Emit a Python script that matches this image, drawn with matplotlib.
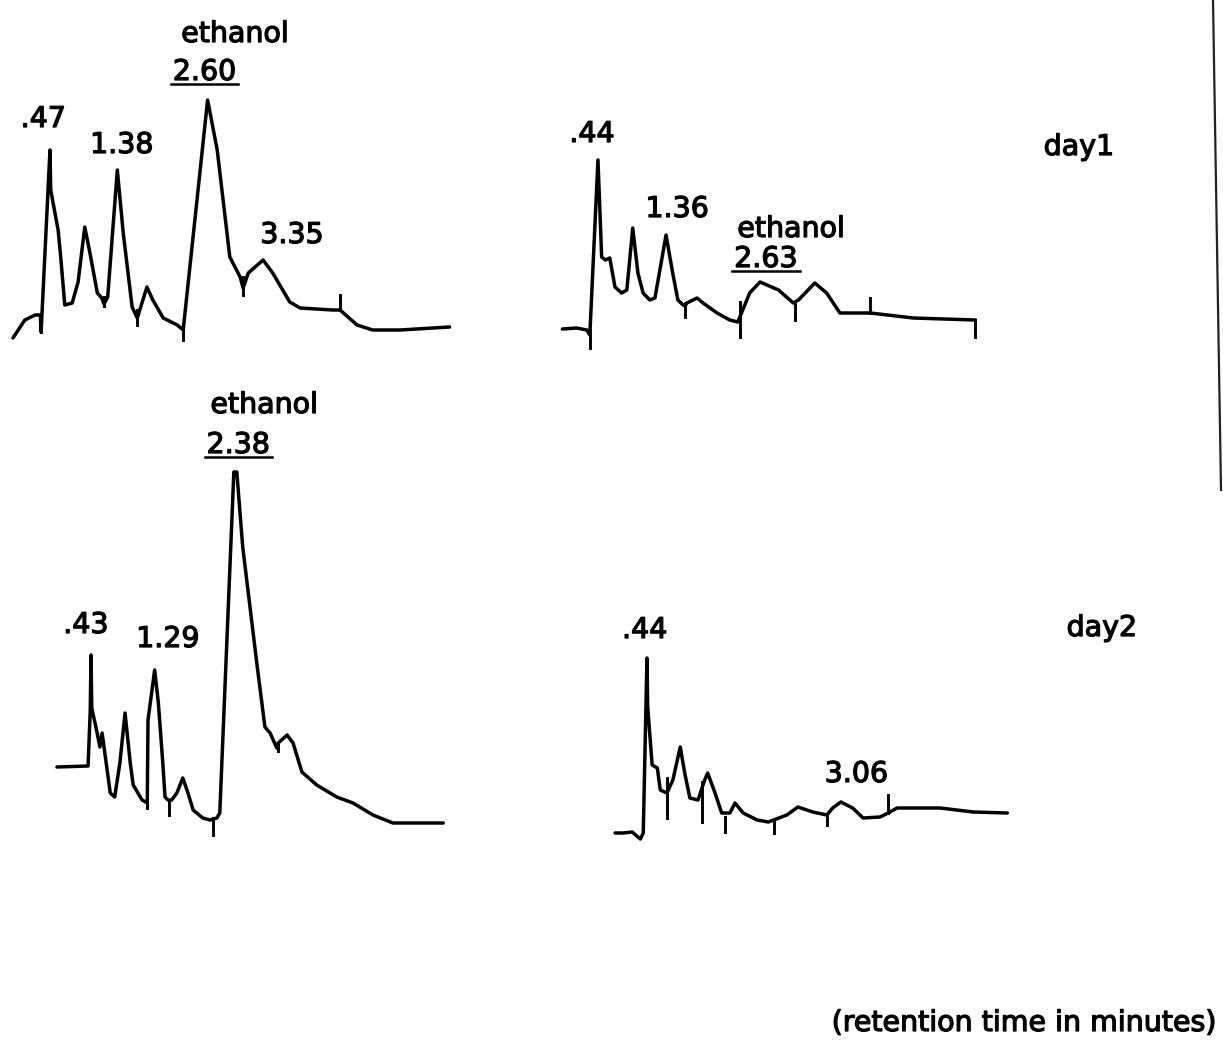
import matplotlib.pyplot as plt
import matplotlib.patheffects as pe
from matplotlib.lines import Line2D

plt.rcParams['font.family'] = ['DejaVu Sans']

W, H = 1223, 1040          # figure size in pixels
PX_PER_MIN = 74.0          # chart speed
PX_PER_UNIT = 10.0         # pen deflection per response unit

# ---- day 1, first sample ----
d1a_time = [-0.03, 0.13, 0.27, 0.34, 0.35, 0.47, 0.48, 0.58, 0.61, 0.67, 0.77, 0.85,
            0.94, 1.01, 1.11, 1.17, 1.20, 1.25, 1.38, 1.46, 1.58, 1.65, 1.78, 1.86,
            2.00, 2.19, 2.27, 2.60, 2.73, 2.90, 3.04, 3.08, 3.15, 3.35, 3.48, 3.71,
            3.85, 4.29, 4.39, 4.62, 4.83, 5.20, 5.87]
d1a_resp = [0.2, 2.0, 2.5, 2.5, 0.8, 19.0, 15.0, 11.0, 8.7, 3.5, 3.7, 5.8,
            11.3, 8.7, 4.7, 4.2, 3.6, 4.3, 17.0, 10.7, 3.3, 2.2, 5.3, 4.0,
            2.2, 1.5, 1.0, 24.0, 19.0, 8.3, 6.3, 5.2, 6.7, 8.0, 6.7, 3.8,
            3.2, 3.0, 3.0, 1.5, 1.0, 1.0, 1.3]
d1a_marks = [(0.35, 0.8, 2.5), (1.20, 3.4, 4.3), (1.65, 1.5, 3.0), (2.27, 0.0, 1.5),
             (3.08, 4.5, 6.3), (4.39, 3.0, 4.5)]
d1a_labels = [('.47', 0.38, 21.3), ('1.38', 1.44, 18.7), ('3.35', 3.74, 9.7)]
d1a_ethanol = ('2.60', 2.56, 26.0, 2.97, 29.8)

# ---- day 1, second sample ----
d1b_time = [-0.04, 0.15, 0.29, 0.33, 0.44, 0.49, 0.54, 0.60, 0.67, 0.76, 0.83, 0.91,
            0.98, 1.05, 1.14, 1.21, 1.36, 1.45, 1.52, 1.59, 1.62, 1.64, 1.78, 1.86,
            2.05, 2.22, 2.33, 2.49, 2.63, 2.88, 3.08, 3.15, 3.37, 3.53, 3.71, 4.12,
            4.70, 5.54]
d1b_resp = [1.1, 1.2, 1.0, 0.5, 18.0, 8.3, 8.0, 8.2, 5.3, 4.7, 5.0, 11.2,
            6.7, 4.7, 4.0, 4.2, 10.5, 6.7, 4.0, 3.5, 3.4, 3.7, 4.2, 3.7,
            2.7, 2.0, 1.8, 4.7, 5.8, 5.0, 3.7, 4.0, 5.7, 4.7, 2.7, 2.7,
            2.2, 2.0]
d1b_marks = [(0.33, -0.8, 1.0), (1.62, 2.3, 3.7), (2.36, 0.3, 3.8), (3.10, 2.0, 3.7),
             (4.12, 2.7, 4.2), (5.54, 0.3, 2.0)]
d1b_labels = [('.44', 0.36, 19.8), ('1.36', 1.51, 12.3)]
d1b_ethanol = ('2.63', 2.71, 7.3, 3.05, 10.3)

# ---- day 2, first sample ----
d2a_time = [-0.03, 0.39, 0.42, 0.43, 0.44, 0.51, 0.55, 0.58, 0.69, 0.75, 0.82, 0.89,
            0.96, 1.00, 1.12, 1.19, 1.20, 1.29, 1.34, 1.40, 1.43, 1.47, 1.52, 1.59,
            1.67, 1.74, 1.81, 1.94, 2.04, 2.13, 2.17, 2.36, 2.40, 2.48, 2.67, 2.78,
            2.85, 2.94, 2.96, 3.08, 3.16, 3.28, 3.48, 3.75, 3.97, 4.24, 4.51, 5.19]
d2a_resp = [6.8, 6.9, 12.5, 18.0, 12.7, 10.3, 8.8, 10.2, 4.2, 3.8, 7.2, 12.2,
            7.2, 5.0, 3.5, 3.2, 11.5, 16.5, 13.2, 7.2, 3.8, 3.5, 3.5, 4.2,
            5.7, 4.2, 2.5, 1.7, 1.5, 1.7, 2.2, 36.3, 36.3, 28.8, 17.2, 10.8,
            10.2, 8.7, 9.2, 10.0, 9.2, 6.3, 5.0, 3.8, 3.2, 2.0, 1.2, 1.2]
d2a_marks = [(1.19, 2.7, 3.5), (1.49, 2.0, 3.5), (2.08, 0.0, 1.7), (2.95, 8.4, 9.2)]
d2a_labels = [('.43', 0.36, 20.2), ('1.29', 1.47, 18.8)]
d2a_ethanol = ('2.38', 2.42, 38.2, 2.77, 42.2)

# ---- day 2, second sample ----
d2b_time = [0.01, 0.12, 0.24, 0.35, 0.39, 0.44, 0.45, 0.51, 0.58, 0.62, 0.71, 0.79,
            0.89, 0.95, 1.02, 1.13, 1.22, 1.26, 1.36, 1.45, 1.56, 1.63, 1.74, 1.93,
            2.08, 2.33, 2.48, 2.68, 2.87, 2.95, 3.06, 3.22, 3.36, 3.59, 3.70, 3.82,
            4.40, 4.85, 5.31]
d2b_resp = [0.7, 0.7, 0.8, 0.1, 0.7, 18.2, 13.3, 7.5, 7.2, 5.0, 4.7, 6.0,
            9.3, 6.7, 4.2, 4.0, 6.0, 6.7, 4.7, 2.7, 2.7, 3.7, 2.7, 2.0,
            1.8, 2.5, 3.3, 2.8, 2.5, 3.2, 3.8, 3.2, 2.2, 2.3, 2.7, 3.2,
            3.2, 2.8, 2.7]
d2b_marks = [(0.71, 2.2, 6.2), (1.19, 1.8, 5.8), (1.49, 0.8, 2.3), (2.15, 0.7, 1.8),
             (2.87, 1.5, 2.5), (3.70, 2.7, 4.5)]
d2b_labels = [('.44', 0.41, 20.2), ('3.06', 3.27, 5.8)]

fig = plt.figure(figsize=(W / 100, H / 100), dpi=100)
fig.patch.set_facecolor('white')

FS = 20.5
# typewriter-ish heavier strokes
INK = [pe.withStroke(linewidth=0.9, foreground='black')]
underlined = []


def panel(px0, py0, tmin=-0.5, tmax=6.5, rmin=-3.0, rmax=45.0):
    # px0: pixel column of t = 0, py0: pixel row of zero response
    left = (px0 + PX_PER_MIN * tmin) / W
    width = PX_PER_MIN * (tmax - tmin) / W
    bottom = (H - (py0 - PX_PER_UNIT * rmin)) / H
    height = PX_PER_UNIT * (rmax - rmin) / H
    ax = fig.add_axes([left, bottom, width, height])
    ax.set_xlim(tmin, tmax)
    ax.set_ylim(rmin, rmax)
    ax.axis('off')
    ax.patch.set_alpha(0)
    return ax


def label(ax, t, r, s):
    return ax.text(t, r, s, fontsize=FS, ha='center', va='baseline', path_effects=INK)


def trace(ax, time, resp, marks, labels, ethanol=None):
    ax.plot(time, resp, color='black', lw=2.5, solid_joinstyle='round',
            solid_capstyle='round', clip_on=False)
    for t, lo, hi in marks:
        ax.plot([t, t], [lo, hi], color='black', lw=2.1, clip_on=False)
    for s, t, r in labels:
        label(ax, t, r, s)
    if ethanol is not None:
        val, tv, rv, te, re_ = ethanol
        label(ax, te, re_, 'ethanol')
        underlined.append(label(ax, tv, rv, val))


trace(panel(15.2, 340), d1a_time, d1a_resp, d1a_marks, d1a_labels, d1a_ethanol)
trace(panel(565.4, 340), d1b_time, d1b_resp, d1b_marks, d1b_labels, d1b_ethanol)
trace(panel(59.2, 835), d2a_time, d2a_resp, d2a_marks, d2a_labels, d2a_ethanol)
trace(panel(614.4, 840), d2b_time, d2b_resp, d2b_marks, d2b_labels)

for x, y, s in [(1079, 155, 'day1'), (1102, 636, 'day2'),
                (1024, 1031, '(retention time in minutes)')]:
    fig.text(x / W, 1 - y / H, s, fontsize=FS, ha='center', va='baseline',
             path_effects=INK)

# page edge on the right
fig.add_artist(Line2D([1213 / W, 1221 / W], [1.0, 1 - 490 / H],
                      color='#222222', lw=1.6))

# underline the ethanol retention times
fig.canvas.draw()
renderer = fig.canvas.get_renderer()
inv = fig.transFigure.inverted()
for txt in underlined:
    bb = txt.get_window_extent(renderer)
    (x0, y0), (x1, _) = inv.transform([(bb.x0 - 2, bb.y0 + 2), (bb.x1 + 2, bb.y0 + 2)])
    fig.add_artist(Line2D([x0, x1], [y0, y0], color='black', lw=1.8))

fig.savefig('out.png', dpi=100, facecolor='white')
